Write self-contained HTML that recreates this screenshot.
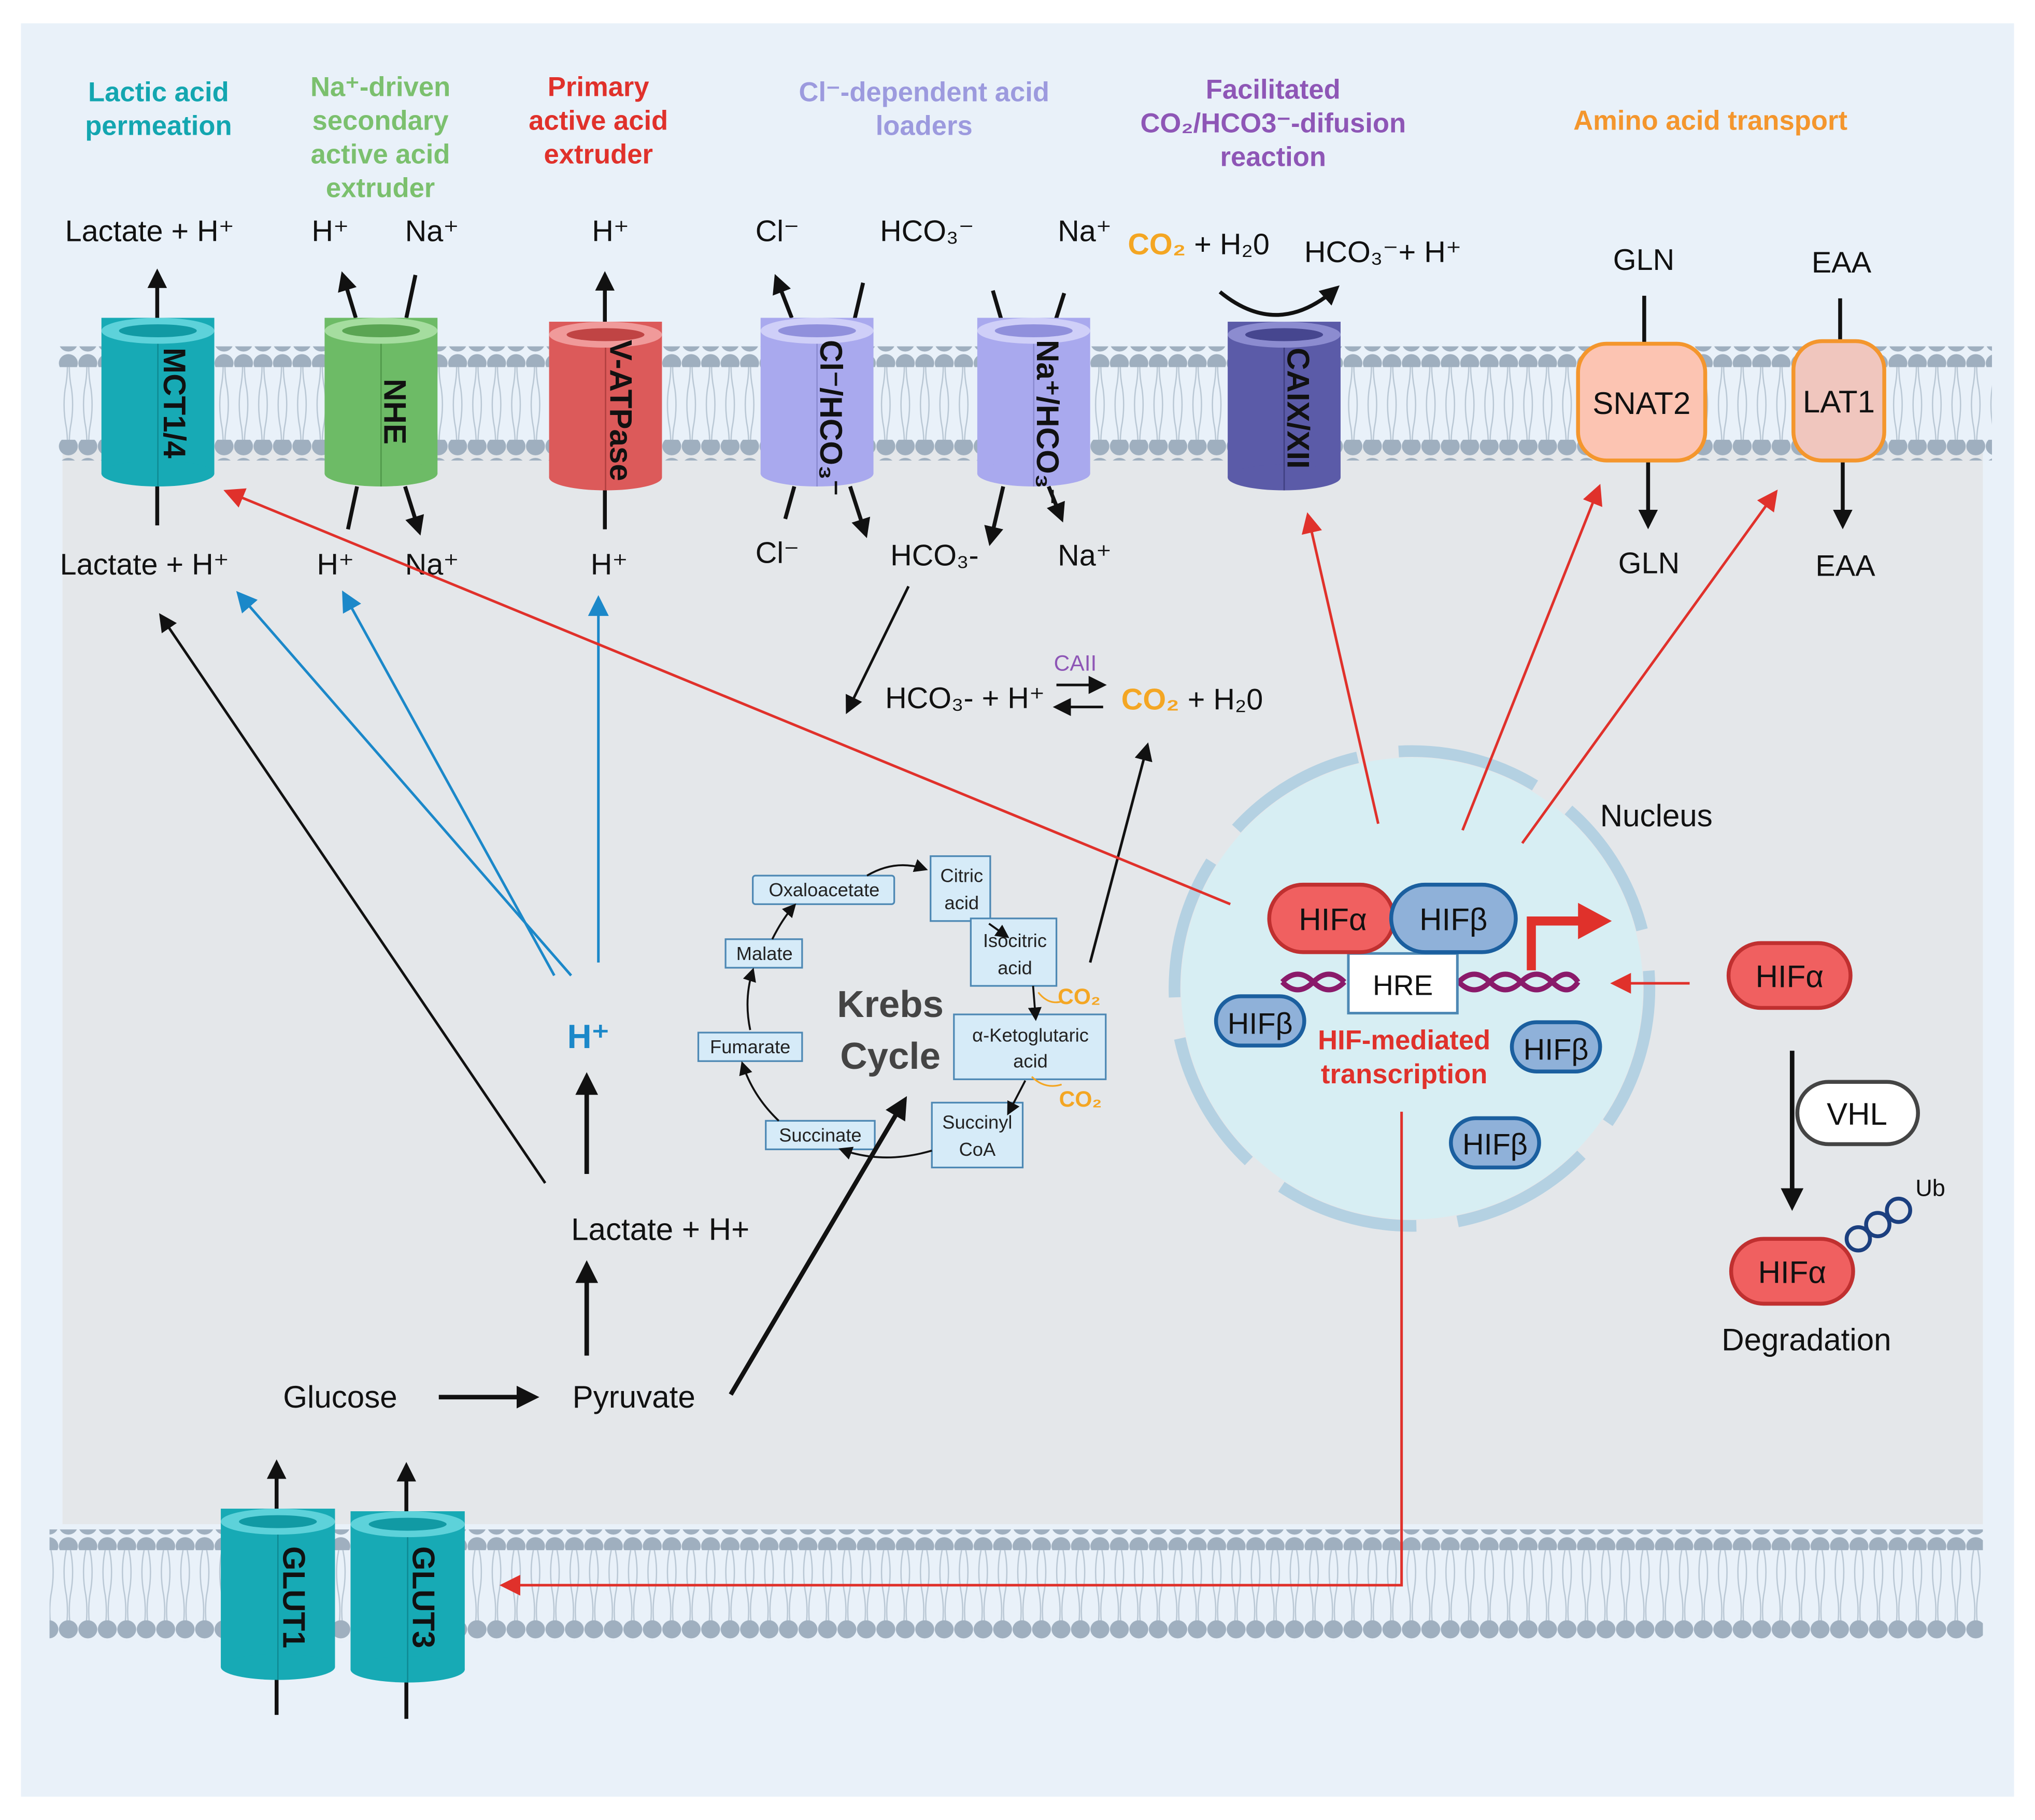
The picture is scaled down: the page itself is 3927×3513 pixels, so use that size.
<!DOCTYPE html>
<html><head><meta charset="utf-8"><style>
html,body{margin:0;padding:0;background:#fff;}
svg{display:block;}
text{font-family:"Liberation Sans",sans-serif;}
</style></head><body>
<svg width="3927" height="3513" viewBox="0 0 1568 1403" xmlns="http://www.w3.org/2000/svg">
<defs>
<pattern id="heads" x="45" y="0" width="15" height="16" patternUnits="userSpaceOnUse"><ellipse cx="7.5" cy="8" rx="7.3" ry="7" fill="#9fafbf"/></pattern>
<pattern id="tails" x="45" y="0" width="15" height="60" patternUnits="userSpaceOnUse"><path d="M5 0 Q3 15 6 30 Q8 45 5 60 M10 0 Q12 15 9 30 Q7 45 10 60" stroke="#b9c7d4" stroke-width="1" fill="none"/></pattern>
<marker id="ab" viewBox="0 0 10 10" refX="8" refY="5" markerWidth="5" markerHeight="5" orient="auto"><path d="M0 0L10 5L0 10z" fill="#111"/></marker>
<marker id="abl" viewBox="0 0 10 10" refX="8" refY="5" markerWidth="8" markerHeight="8" orient="auto"><path d="M0 0L10 5L0 10z" fill="#1b88c9"/></marker>
<marker id="ar" viewBox="0 0 10 10" refX="8" refY="5" markerWidth="8" markerHeight="8" orient="auto"><path d="M0 0L10 5L0 10z" fill="#e0312b"/></marker>
<marker id="as" viewBox="0 0 10 10" refX="8" refY="5" markerWidth="7" markerHeight="7" orient="auto"><path d="M0 0L10 5L0 10z" fill="#111"/></marker>
</defs>
<rect x="16" y="18" width="1536" height="1367" fill="#e9f1f9"/>
<rect x="48" y="345" width="1480" height="830" fill="#e4e7ea"/>
<!-- top membrane -->
<rect x="45" y="283" width="1490" height="58" fill="url(#tails)"/>
<rect x="45" y="267" width="1490" height="16" fill="url(#heads)"/>
<rect x="45" y="339" width="1490" height="16" fill="url(#heads)"/>
<!-- bottom membrane -->
<rect x="38" y="1195" width="1490" height="56" fill="url(#tails)"/>
<rect x="38" y="1179" width="1490" height="16" fill="url(#heads)"/>
<rect x="38" y="1249" width="1490" height="16" fill="url(#heads)"/>

<!-- headers -->
<g font-weight="bold" font-size="21" text-anchor="middle">
<text x="122" y="78" fill="#13a6b0">Lactic acid</text><text x="122" y="104" fill="#13a6b0">permeation</text>
<g fill="#7bc06e"><text x="293" y="74">Na⁺-driven</text><text x="293" y="100">secondary</text><text x="293" y="126">active acid</text><text x="293" y="152">extruder</text></g>
<g fill="#e0312b"><text x="461" y="74">Primary</text><text x="461" y="100">active acid</text><text x="461" y="126">extruder</text></g>
<g fill="#9c9ade"><text x="712" y="78">Cl⁻-dependent acid</text><text x="712" y="104">loaders</text></g>
<g fill="#8e56b6"><text x="981" y="76">Facilitated</text><text x="981" y="102">CO₂/HCO3⁻-difusion</text><text x="981" y="128">reaction</text></g>
<text x="1318" y="100" fill="#f4962d">Amino acid transport</text>
</g>

<!-- top labels -->
<g font-size="23" fill="#111">
<text x="50" y="186">Lactate + H⁺</text>
<text x="240" y="186">H⁺</text><text x="312" y="186">Na⁺</text>
<text x="456" y="186">H⁺</text>
<text x="582" y="186">Cl⁻</text><text x="678" y="186">HCO₃⁻</text><text x="815" y="186">Na⁺</text>
<text x="869" y="196"><tspan fill="#f4a623" font-weight="bold">CO₂</tspan> + H₂0</text>
<text x="1005" y="202">HCO₃⁻+ H⁺</text>
<text x="1243" y="208">GLN</text><text x="1396" y="210">EAA</text>
<text x="46" y="443">Lactate + H⁺</text>
<text x="244" y="443">H⁺</text><text x="312" y="443">Na⁺</text>
<text x="455" y="443">H⁺</text>
<text x="582" y="434">Cl⁻</text><text x="686" y="436">HCO₃-</text><text x="815" y="436">Na⁺</text>
<text x="1247" y="442">GLN</text><text x="1399" y="444">EAA</text>
</g>

<!-- transport arrows -->
<g stroke="#111" stroke-width="3" fill="none" marker-end="url(#ab)">
<path d="M121 405V210"/>
<path d="M274 245L264 212"/>
<path d="M268 408L275 375" marker-end="none"/><path d="M312 375L323 410"/>
<path d="M320 212L313 245" marker-end="none"/>
<path d="M466 408V212"/>
<path d="M610 245L598 214"/><path d="M665 218L658 248" marker-end="none"/>
<path d="M612 375L605 400" marker-end="none"/><path d="M655 375L667 412"/>
<path d="M765 224L772 248" marker-end="none"/><path d="M820 226L813 248" marker-end="none"/>
<path d="M773 375L763 418"/><path d="M808 375L818 400"/>
<path d="M1267 228V265" marker-end="none"/><path d="M1270 355V405"/>
<path d="M1418 230V262" marker-end="none"/><path d="M1420 355V405"/>
<path d="M213 1322V1128"/><path d="M313 1325V1130"/>
</g>
<path d="M940 225Q985 262 1030 222" stroke="#111" stroke-width="3" fill="none" marker-end="url(#ab)"/>

<!-- cylinders -->
<g>
<g transform="translate(78,245)"><rect width="87" height="120" fill="#17aab5"/><ellipse cx="43.5" cy="120" rx="43.5" ry="10" fill="#17aab5"/><ellipse cx="43.5" cy="10" rx="43.5" ry="10" fill="#5dd2da"/><ellipse cx="43.5" cy="10" rx="30" ry="5" fill="#119aa4"/><line x1="43.5" y1="20" x2="43.5" y2="130" stroke="#0e8a93"/></g>
<g transform="translate(250,245)"><rect width="87" height="120" fill="#6dbb66"/><ellipse cx="43.5" cy="120" rx="43.5" ry="10" fill="#6dbb66"/><ellipse cx="43.5" cy="10" rx="43.5" ry="10" fill="#a5dd9f"/><ellipse cx="43.5" cy="10" rx="30" ry="5" fill="#5aa553"/><line x1="43.5" y1="20" x2="43.5" y2="130" stroke="#4f9649"/></g>
<g transform="translate(423,248)"><rect width="87" height="120" fill="#dc5a5a"/><ellipse cx="43.5" cy="120" rx="43.5" ry="10" fill="#dc5a5a"/><ellipse cx="43.5" cy="10" rx="43.5" ry="10" fill="#f09a9a"/><ellipse cx="43.5" cy="10" rx="30" ry="5" fill="#c04444"/><line x1="43.5" y1="20" x2="43.5" y2="130" stroke="#b03e3e"/></g>
<g transform="translate(586,245)"><rect width="87" height="120" fill="#a9a9ee"/><ellipse cx="43.5" cy="120" rx="43.5" ry="10" fill="#a9a9ee"/><ellipse cx="43.5" cy="10" rx="43.5" ry="10" fill="#cfcff8"/><ellipse cx="43.5" cy="10" rx="30" ry="5" fill="#9090dc"/><line x1="43.5" y1="20" x2="43.5" y2="130" stroke="#8a8ad0"/></g>
<g transform="translate(753,245)"><rect width="87" height="120" fill="#a9a9ee"/><ellipse cx="43.5" cy="120" rx="43.5" ry="10" fill="#a9a9ee"/><ellipse cx="43.5" cy="10" rx="43.5" ry="10" fill="#cfcff8"/><ellipse cx="43.5" cy="10" rx="30" ry="5" fill="#9090dc"/><line x1="43.5" y1="20" x2="43.5" y2="130" stroke="#8a8ad0"/></g>
<g transform="translate(946,248)"><rect width="87" height="120" fill="#5b5ba8"/><ellipse cx="43.5" cy="120" rx="43.5" ry="10" fill="#5b5ba8"/><ellipse cx="43.5" cy="10" rx="43.5" ry="10" fill="#8c8cd0"/><ellipse cx="43.5" cy="10" rx="30" ry="5" fill="#46468f"/><line x1="43.5" y1="20" x2="43.5" y2="130" stroke="#3e3e80"/></g>
<g transform="translate(170,1163)"><rect width="88" height="122" fill="#17aab5"/><ellipse cx="44" cy="122" rx="44" ry="10" fill="#17aab5"/><ellipse cx="44" cy="10" rx="44" ry="10" fill="#5dd2da"/><ellipse cx="44" cy="10" rx="30" ry="5" fill="#119aa4"/><line x1="44" y1="20" x2="44" y2="132" stroke="#0e8a93"/></g>
<g transform="translate(270,1165)"><rect width="88" height="122" fill="#17aab5"/><ellipse cx="44" cy="122" rx="44" ry="10" fill="#17aab5"/><ellipse cx="44" cy="10" rx="44" ry="10" fill="#5dd2da"/><ellipse cx="44" cy="10" rx="30" ry="5" fill="#119aa4"/><line x1="44" y1="20" x2="44" y2="132" stroke="#0e8a93"/></g>
</g>
<g font-weight="bold" font-size="24" fill="#111">
<text transform="translate(126,268) rotate(90)">MCT1/4</text>
<text transform="translate(296,292) rotate(90)">NHE</text>
<text transform="translate(470,262) rotate(90)">V-ATPase</text>
<text transform="translate(632,262) rotate(90)">Cl⁻/HCO₃⁻</text>
<text transform="translate(799,262) rotate(90)">Na⁺/HCO₃⁻</text>
<text transform="translate(992,268) rotate(90)">CAIX/XII</text>
<text transform="translate(218,1192) rotate(90)">GLUT1</text>
<text transform="translate(318,1192) rotate(90)">GLUT3</text>
</g>

<!-- SNAT2 / LAT1 -->
<rect x="1216" y="265" width="98" height="90" rx="22" fill="#fcc4b2" stroke="#f4962d" stroke-width="3"/>
<text x="1265" y="319" font-size="24" text-anchor="middle" fill="#111">SNAT2</text>
<rect x="1382" y="263" width="70" height="92" rx="22" fill="#f0c6be" stroke="#f4962d" stroke-width="3"/>
<text x="1417" y="318" font-size="24" text-anchor="middle" fill="#111">LAT1</text>

<!-- CAII reaction -->
<path d="M700 452L653 548" stroke="#111" stroke-width="2" fill="none" marker-end="url(#as)"/>
<text x="682" y="546" font-size="23" fill="#111">HCO₃- + H⁺</text>
<text x="812" y="517" font-size="17" fill="#8e56b6">CAII</text>
<path d="M814 528H850" stroke="#111" stroke-width="2" fill="none" marker-end="url(#as)"/>
<path d="M850 545H814" stroke="#111" stroke-width="2" fill="none" marker-end="url(#as)"/>
<text x="864" y="547" font-size="23" fill="#111"><tspan fill="#f4a623" font-weight="bold">CO₂</tspan> + H₂0</text>
<path d="M840 742L884 575" stroke="#111" stroke-width="2" fill="none" marker-end="url(#as)"/>

<!-- Krebs -->
<g font-size="14.5" fill="#222" text-anchor="middle">
<rect x="580" y="675" width="109" height="22" rx="2" fill="#d6ebf8" stroke="#4d88b4" stroke-width="1.3"/><text x="635" y="691">Oxaloacetate</text>
<rect x="717" y="660" width="46" height="50" fill="#d6ebf8" stroke="#4d88b4" stroke-width="1.3"/><text x="741" y="680">Citric</text><text x="741" y="701">acid</text>
<rect x="748" y="708" width="66" height="52" fill="#d6ebf8" stroke="#4d88b4" stroke-width="1.3"/><text x="782" y="730">Isocitric</text><text x="782" y="751">acid</text>
<rect x="559" y="724" width="59" height="22" fill="#d6ebf8" stroke="#4d88b4" stroke-width="1.3"/><text x="589" y="740">Malate</text>
<rect x="538" y="796" width="80" height="22" fill="#d6ebf8" stroke="#4d88b4" stroke-width="1.3"/><text x="578" y="812">Fumarate</text>
<rect x="735" y="782" width="117" height="50" fill="#d6ebf8" stroke="#4d88b4" stroke-width="1.3"/><text x="794" y="803">α-Ketoglutaric</text><text x="794" y="823">acid</text>
<rect x="590" y="864" width="84" height="22" fill="#d6ebf8" stroke="#4d88b4" stroke-width="1.3"/><text x="632" y="880">Succinate</text>
<rect x="718" y="850" width="70" height="50" fill="#d6ebf8" stroke="#4d88b4" stroke-width="1.3"/><text x="753" y="870">Succinyl</text><text x="753" y="891">CoA</text>
</g>
<g stroke="#111" stroke-width="1.5" fill="none" marker-end="url(#as)">
<path d="M668 675Q690 662 713 670"/>
<path d="M762 712L776 722"/>
<path d="M796 760L798 785"/>
<path d="M790 833L777 858"/>
<path d="M718 887Q680 898 648 886"/>
<path d="M600 864Q580 845 572 820"/>
<path d="M578 794Q573 770 580 748"/>
<path d="M595 724Q603 708 612 698"/>
</g>
<path d="M800 765Q808 775 818 772M795 830Q805 840 818 836" stroke="#f4a623" stroke-width="1.3" fill="none"/>
<text x="815" y="774" font-size="17" font-weight="bold" fill="#f4a623">CO₂</text>
<text x="816" y="853" font-size="17" font-weight="bold" fill="#f4a623">CO₂</text>
<text x="686" y="784" font-size="29" font-weight="bold" fill="#444" text-anchor="middle">Krebs</text>
<text x="686" y="824" font-size="29" font-weight="bold" fill="#444" text-anchor="middle">Cycle</text>

<!-- glycolysis -->
<g font-size="24" fill="#111">
<text x="218" y="1085">Glucose</text>
<text x="441" y="1085">Pyruvate</text>
<text x="440" y="956">Lactate + H+</text>
</g>
<text x="437" y="808" font-size="26" font-weight="bold" fill="#1b88c9">H⁺</text>
<g stroke="#111" stroke-width="3.5" fill="none" marker-end="url(#ab)">
<path d="M338 1077H412"/><path d="M452 1045V975"/><path d="M452 905V830"/>
<path d="M563 1075L697 848"/>
</g>
<path d="M420 912L124 475" stroke="#111" stroke-width="2" fill="none" marker-end="url(#as)"/>
<g stroke="#1b88c9" stroke-width="2" fill="none" marker-end="url(#abl)">
<path d="M440 752L184 458"/><path d="M427 752L265 458"/><path d="M461 742V462"/>
</g>

<!-- nucleus -->
<circle cx="1088" cy="762" r="178" fill="#d7eef3"/>
<circle cx="1088" cy="762" r="183" fill="none" stroke="#b4d1e2" stroke-width="9" stroke-dasharray="110 32"/>
<text x="1233" y="637" font-size="24" fill="#111">Nucleus</text>
<!-- DNA -->
<path d="M988 757Q1000 745 1012 757T1036 757M988 757Q1000 769 1012 757T1036 757M1124 757Q1136 745 1148 757T1172 757T1196 757T1216 757M1124 757Q1136 769 1148 757T1172 757T1196 757T1216 757" stroke="#8a1a6a" stroke-width="4" fill="none"/>
<rect x="1039" y="735" width="84" height="46" fill="#fff" stroke="#4d88b4" stroke-width="2"/>
<text x="1081" y="767" font-size="22" text-anchor="middle" fill="#111">HRE</text>
<rect x="978" y="682" width="96" height="52" rx="26" fill="#f06060" stroke="#c03030" stroke-width="3"/>
<text x="1027" y="717" font-size="24" text-anchor="middle" fill="#111">HIFα</text>
<rect x="1072" y="682" width="96" height="52" rx="26" fill="#8fb1d9" stroke="#1b5f9f" stroke-width="3"/>
<text x="1120" y="717" font-size="24" text-anchor="middle" fill="#111">HIFβ</text>
<path d="M1180 748V710H1218" stroke="#e0312b" stroke-width="7" fill="none"/><path d="M1216 696L1242 710L1216 724z" fill="#e0312b"/>
<rect x="937" y="768" width="68" height="38" rx="19" fill="#8fb1d9" stroke="#1b5f9f" stroke-width="3"/><text x="971" y="797" font-size="23" text-anchor="middle" fill="#111">HIFβ</text>
<rect x="1165" y="788" width="68" height="38" rx="19" fill="#8fb1d9" stroke="#1b5f9f" stroke-width="3"/><text x="1199" y="817" font-size="23" text-anchor="middle" fill="#111">HIFβ</text>
<rect x="1118" y="862" width="68" height="38" rx="19" fill="#8fb1d9" stroke="#1b5f9f" stroke-width="3"/><text x="1152" y="890" font-size="23" text-anchor="middle" fill="#111">HIFβ</text>
<text x="1082" y="809" font-size="21" font-weight="bold" text-anchor="middle" fill="#e0312b">HIF-mediated</text>
<text x="1082" y="835" font-size="21" font-weight="bold" text-anchor="middle" fill="#e0312b">transcription</text>

<!-- red arrows -->
<g stroke="#e0312b" stroke-width="2" fill="none" marker-end="url(#ar)">
<path d="M948 697L175 379"/>
<path d="M1062 635L1008 398"/>
<path d="M1127 640L1232 376"/>
<path d="M1173 650L1368 380"/>
<path d="M1080 857V1222H388"/>
<path d="M1302 758H1244"/>
</g>

<!-- degradation -->
<rect x="1332" y="727" width="94" height="50" rx="25" fill="#f06060" stroke="#c03030" stroke-width="3"/>
<text x="1379" y="761" font-size="24" text-anchor="middle" fill="#111">HIFα</text>
<path d="M1381 810V930" stroke="#111" stroke-width="3.5" fill="none" marker-end="url(#ab)"/>
<rect x="1385" y="834" width="93" height="48" rx="24" fill="#fff" stroke="#444" stroke-width="3"/>
<text x="1431" y="867" font-size="24" text-anchor="middle" fill="#111">VHL</text>
<g fill="none" stroke="#1b3f7f" stroke-width="3"><circle cx="1432" cy="955" r="9"/><circle cx="1447" cy="944" r="9"/><circle cx="1463" cy="933" r="9"/></g>
<text x="1476" y="922" font-size="18" fill="#111">Ub</text>
<rect x="1334" y="955" width="94" height="50" rx="25" fill="#f06060" stroke="#c03030" stroke-width="3"/>
<text x="1381" y="989" font-size="24" text-anchor="middle" fill="#111">HIFα</text>
<text x="1392" y="1041" font-size="24" text-anchor="middle" fill="#111">Degradation</text>
</svg>
</body></html>
